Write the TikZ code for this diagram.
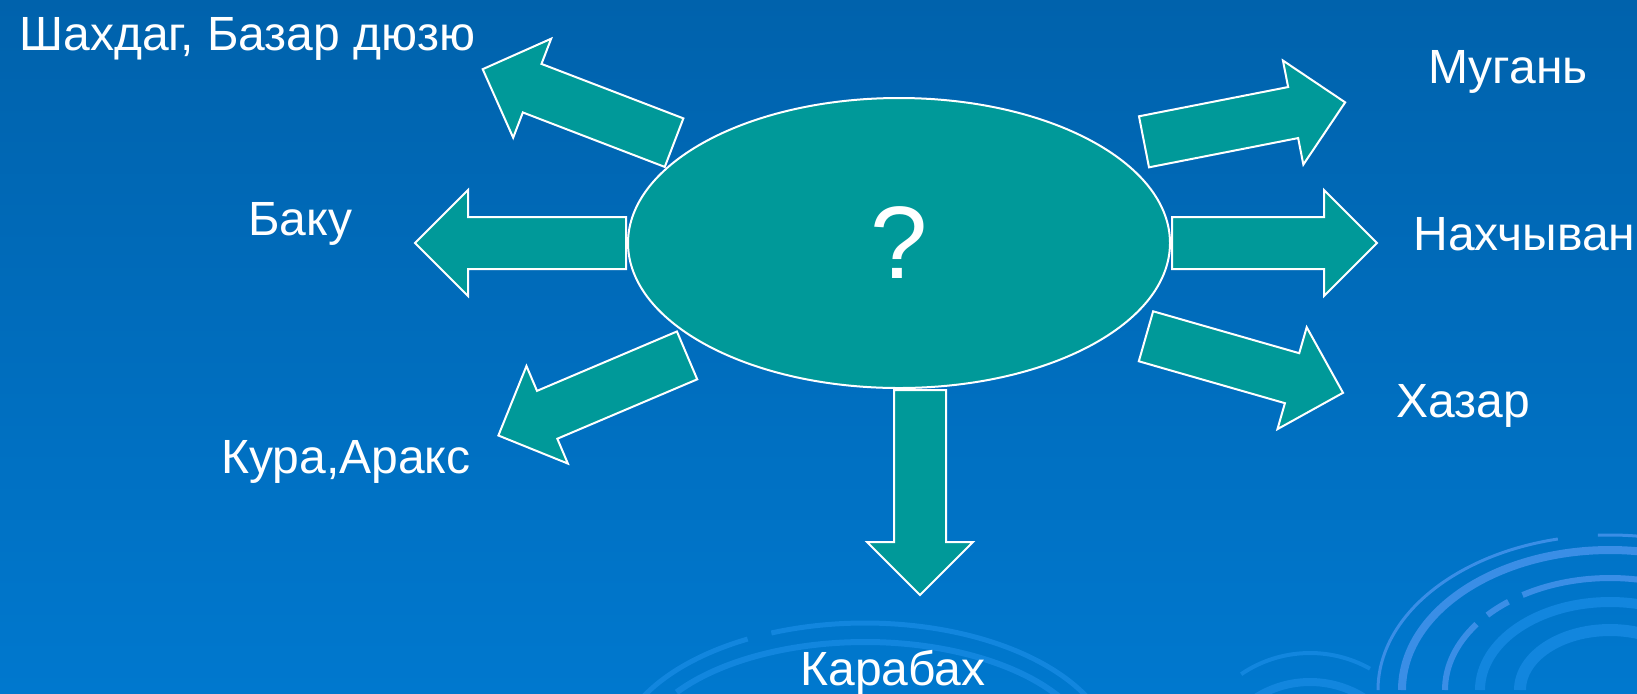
\documentclass[tikz,border=0pt]{standalone}
\usepackage{fontspec}
\setmainfont{Liberation Sans}
\usetikzlibrary{shapes.geometric,shapes.arrows}

\definecolor{bgtop}{RGB}{0,98,172}
\definecolor{bgbottom}{RGB}{0,120,206}
\definecolor{tealfill}{RGB}{0,153,153}
\definecolor{ringlight}{RGB}{58,142,230}
\definecolor{ringdim}{RGB}{18,134,222}

\begin{document}
\begin{tikzpicture}[x=0.5pt,y=-0.5pt,
    region/.style={text=white, font=\fontsize{24}{28}\selectfont, anchor=base west, inner sep=0pt},
    blockarrow/.style={single arrow, draw=white, fill=tealfill, line width=1pt,
        minimum height=102.5pt, minimum width=52pt, single arrow head extend=13.5pt,
        inner xsep=0pt, inner ysep=12.5pt, anchor=tail},
    ring/.style={draw=ringlight, line width=#1},
    dimring/.style={draw=ringdim, line width=#1}]

    \useasboundingbox (0,0) rectangle (1637,693);
    \shade[top color=bgtop, bottom color=bgbottom] (0,0) rectangle (1637,693);

    % rings in the background
    \begin{scope}
        \clip (0,0) rectangle (1637,693);
        \draw[ring=1.5pt] (1610,690) ++(180:232 and 155) arc[start angle=180, end angle=257, x radius=232, y radius=155];
        \draw[ring=1.5pt] (1610,690) ++(267:232 and 155) arc[start angle=267, end angle=330, x radius=232, y radius=155];
        \draw[ring=4pt] (1610,690) ++(180:208 and 140) arc[start angle=180, end angle=330, x radius=208, y radius=140];
        \draw[ring=3pt] (1610,690) ++(180:165 and 112) arc[start angle=180, end angle=216, x radius=165, y radius=112];
        \draw[ring=3pt] (1610,690) ++(222:165 and 112) arc[start angle=222, end angle=232, x radius=165, y radius=112];
        \draw[ring=3pt] (1610,690) ++(238:165 and 112) arc[start angle=238, end angle=330, x radius=165, y radius=112];
        \draw[dimring=5pt] (1610,690) ++(180:130 and 88) arc[start angle=180, end angle=360, x radius=130, y radius=88];
        \draw[dimring=6pt] (1610,690) ++(180:90 and 60) arc[start angle=180, end angle=360, x radius=90, y radius=60];
        \draw[dimring=2.5pt] (865,760) ++(205:250 and 137) arc[start angle=205, end angle=242, x radius=250, y radius=137];
        \draw[dimring=2.5pt] (865,760) ++(248:250 and 137) arc[start angle=248, end angle=340, x radius=250, y radius=137];
        \draw[dimring=3pt] (865,760) ++(215:230 and 118) arc[start angle=215, end angle=335, x radius=230, y radius=118];
        \draw[dimring=2pt] (1310,770) ++(235:120 and 117) arc[start angle=235, end angle=300, x radius=120, y radius=117];
        \draw[dimring=4pt] (1310,770) ++(200:95 and 88) arc[start angle=200, end angle=340, x radius=95, y radius=88];
    \end{scope}

    \node[ellipse, draw=white, fill=tealfill, line width=1pt, minimum width=271pt, minimum height=145pt,
        inner sep=0pt, text=white, font=\fontsize{51.5}{60}\selectfont] (hub) at (899,243) {?};

    \node[blockarrow, rotate=159] (toShahdag) at (675,143) {};
    \node[blockarrow, rotate=180, minimum height=105.5pt] (toBaku) at (hub.west) {};
    \node[blockarrow, rotate=203] (toKura) at (688,355) {};
    \node[blockarrow, rotate=11.1] (toMugan) at (1143,142) {};
    \node[blockarrow, rotate=0] (toNakh) at (hub.east) {};
    \node[blockarrow, rotate=-16] (toKhazar) at (1145,336) {};
    \node[blockarrow, rotate=-90] (toKarabakh) at (920,389) {};

    \node[region] (shahdag) at (19,50) {Шахдаг, Базар дюзю};
    \node[region] (baku) at (248,235) {Баку};
    \node[region] (kura) at (221,473) {Кура,Аракс};
    \node[region] (mugan) at (1428,83) {Мугань};
    \node[region] (nakh) at (1413,250) {Нахчыван};
    \node[region] (khazar) at (1396,417) {Хазар};
    \node[region] (karabakh) at (800,685) {Карабах};
\end{tikzpicture}
\end{document}
